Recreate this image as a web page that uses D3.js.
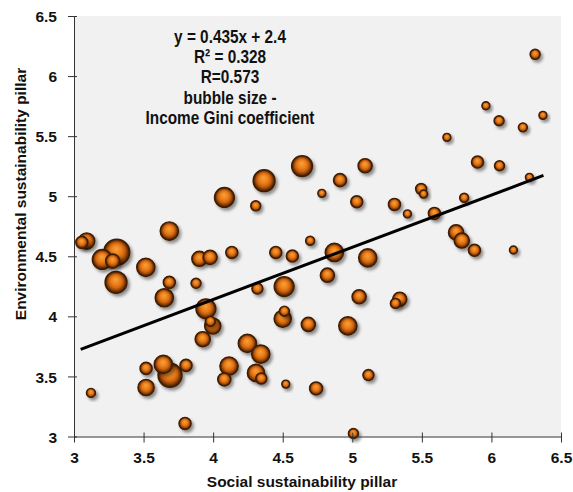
<!DOCTYPE html>
<html><head><meta charset="utf-8">
<script src="https://cdn.jsdelivr.net/npm/d3@7"></script>
<style>
html,body{margin:0;padding:0;background:#fff;}
svg{display:block;}
</style></head>
<body>
<svg id="chart" width="573" height="492"></svg>
<script>
// Social sustainability pillar (x)
const social = [6.314,5.96,6.055,6.37,6.226,5.68,5.90,6.058,5.092,4.639,4.366,4.081,4.306,4.781,3.685,3.091,3.056,3.307,3.203,3.278,3.516,3.302,3.685,3.877,3.649,3.901,3.978,4.134,4.45,4.569,4.697,4.318,4.51,3.948,3.997,3.98,3.925,4.246,4.342,4.114,4.08,4.308,4.346,4.522,4.5,4.512,3.518,3.642,3.69,3.805,3.518,3.122,3.798,4.912,5.032,5.303,5.396,5.495,5.512,5.804,5.59,6.273,5.746,5.787,5.878,6.158,4.871,5.111,4.821,5.049,5.341,5.31,4.684,4.968,5.116,4.74,5.008];
// Environmental sustainability pillar (y)
const environmental = [6.181,5.753,5.628,5.673,5.573,5.49,5.284,5.254,5.254,5.251,5.129,4.99,4.92,5.024,4.71,4.627,4.616,4.534,4.474,4.46,4.408,4.283,4.283,4.275,4.155,4.479,4.491,4.532,4.532,4.502,4.629,4.231,4.248,4.063,3.92,3.958,3.81,3.775,3.686,3.586,3.475,3.529,3.483,3.436,3.98,4.043,3.567,3.6,3.51,3.592,3.408,3.363,3.109,5.134,4.954,4.932,4.853,5.06,5.018,4.987,4.857,5.157,4.699,4.631,4.55,4.552,4.532,4.487,4.343,4.163,4.143,4.108,3.933,3.921,3.511,3.40,3.025];
// Income Gini coefficient (bubble size)
const gini = [29,25,29,25,27,25,33,29,37,50,52,48,29,25,45,41,33,60,48,37,45,52,33,29,45,39,37,33,33,33,27,31,48,48,41,29,39,45,45,45,35,43,31,25,43,29,33,45,56,33,41,27,33,35,33,33,25,31,25,27,33,25,39,39,33,25,45,45,37,37,37,29,37,45,31,35,29];
const xTicks = [3,3.5,4,4.5,5,5.5,6,6.5];
const yTicks = [3,3.5,4,4.5,5,5.5,6,6.5];
const slope = 0.435, intercept = 2.4;
const fitRange = [3.048, 6.374];
const annotation = ["y = 0.435x + 2.4","R\u00B2 = 0.328","R=0.573","bubble size -","Income Gini coefficient"];
const xTitle = "Social sustainability pillar";
const yTitle = "Environmental sustainability pillar";

const svg = d3.select("#chart");
const x = d3.scaleLinear().domain([3,6.5]).range([74,561]);
const y = d3.scaleLinear().domain([3,6.5]).range([436.5,16]);
const r = d3.scaleLinear().domain([25,60]).range([4,13]);

const defs = svg.append("defs");
const grad = defs.append("radialGradient").attr("id","ball")
  .attr("cx","50%").attr("cy","50%").attr("r","50%").attr("fx","48%").attr("fy","36%");
[[0,"#f8a23a"],[0.42,"#e97e1a"],[0.64,"#cc600c"],[0.82,"#7e3c07"],[1,"#361802"]]
  .forEach(([o,c])=>grad.append("stop").attr("offset",o).attr("stop-color",c));
const f = defs.append("filter").attr("id","shadow").attr("x","-50%").attr("y","-50%").attr("width","200%").attr("height","200%");
f.append("feDropShadow").attr("dx",2.2).attr("dy",2.6).attr("stdDeviation",1.8)
  .attr("flood-color","#000").attr("flood-opacity",0.42);

// plot background
svg.append("rect").attr("x",x(3)).attr("y",y(6.5))
  .attr("width",x(6.5)-x(3)).attr("height",y(3)-y(6.5)).attr("fill","#f1f1f1");

// bubbles
const data = social.map((s,i)=>({x:s,y:environmental[i],g:gini[i]}))
  .sort((a,b)=>b.g-a.g);
svg.append("g").selectAll("circle").data(data).join("circle")
  .attr("cx",d=>x(d.x)).attr("cy",d=>y(d.y)).attr("r",d=>r(d.g))
  .attr("fill","url(#ball)").attr("stroke","#3f1c03").attr("stroke-width",1.4)
  .attr("filter","url(#shadow)");

// regression line
svg.append("line")
  .attr("x1",x(fitRange[0])).attr("y1",y(slope*fitRange[0]+intercept))
  .attr("x2",x(fitRange[1])).attr("y2",y(slope*fitRange[1]+intercept))
  .attr("stroke","#000").attr("stroke-width",3);

const axisFont = "'Liberation Sans', Arial, sans-serif";
// x axis
const gx = svg.append("g").attr("transform",`translate(0,${y(3)})`)
  .call(d3.axisBottom(x).tickValues(xTicks).tickFormat(d3.format("")).tickSizeOuter(0));
gx.select(".domain").attr("stroke","#333");
gx.selectAll(".tick line").attr("y1",-4).attr("y2",6).attr("stroke","#333");
gx.selectAll(".tick text").attr("y",26.5).attr("dy",null)
  .style("font-family",axisFont).style("font-weight","bold").style("font-size","15.5px").attr("fill","#111");
// y axis
const gy = svg.append("g").attr("transform",`translate(${x(3)},0)`)
  .call(d3.axisLeft(y).tickValues(yTicks).tickFormat(d3.format("")).tickSizeOuter(0));
gy.select(".domain").attr("stroke","#333");
gy.selectAll(".tick line").attr("x1",-6).attr("x2",3).attr("stroke","#333");
gy.selectAll(".tick text").attr("x",-17).attr("dy","0.36em")
  .style("font-family",axisFont).style("font-weight","bold").style("font-size","15.5px").attr("fill","#111");

// axis titles
svg.append("text").attr("x",302).attr("y",487).attr("text-anchor","middle")
  .style("font-family",axisFont).style("font-weight","bold").style("font-size","15.5px").attr("fill","#111")
  .text(xTitle);
svg.append("text").attr("transform","translate(26,194) rotate(-90)").attr("text-anchor","middle")
  .style("font-family",axisFont).style("font-weight","bold").style("font-size","15.5px").attr("fill","#111")
  .text(yTitle);

// annotation (condensed bold)
const ann = svg.append("g").attr("transform","translate(230,0) scale(0.83,1)")
  .append("text").attr("text-anchor","middle")
  .style("font-family",axisFont)
  .style("font-weight","bold").style("font-size","18.5px").attr("fill","#111");
annotation.forEach((t,i)=>ann.append("tspan").attr("x",0).attr("y",42.7+i*20.3).text(t));
</script>
</body></html>
